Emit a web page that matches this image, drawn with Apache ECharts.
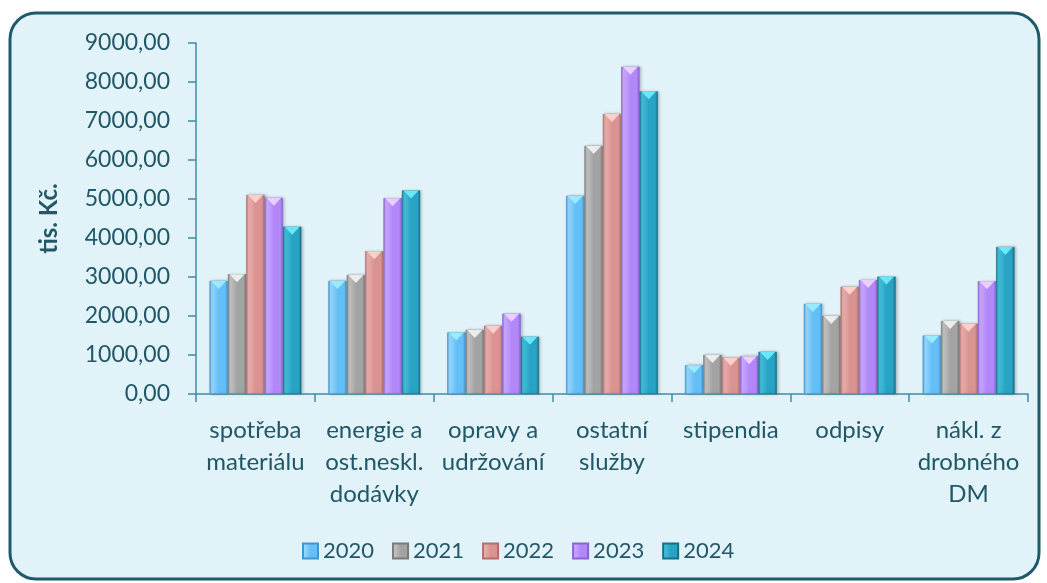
<!DOCTYPE html>
<html>
<head>
<meta charset="utf-8">
<script src="https://cdn.jsdelivr.net/npm/echarts@6/dist/echarts.min.js"></script>
<style>
  html, body { margin: 0; padding: 0; background: #ffffff; }
  #chart { width: 1047px; height: 583px; }
</style>
</head>
<body>
<div id="chart"></div>
<script>
// kategorie nákladů
const categories = ['spotřeba\nmateriálu', 'energie a\nost.neskl.\ndodávky', 'opravy a\nudržování', 'ostatní\nslužby', 'stipendia', 'odpisy', 'nákl. z\ndrobného\nDM']
const years = ['2020', '2021', '2022', '2023', '2024']

// hodnoty v tis. Kč
const v2020 = [2900, 2900, 1580, 5080, 740, 2310, 1500]
const v2021 = [3070, 3050, 1640, 6360, 1000, 2000, 1870]
const v2022 = [5100, 3660, 1750, 7180, 930, 2750, 1800]
const v2023 = [5030, 5020, 2060, 8390, 970, 2920, 2890]
const v2024 = [4290, 5220, 1470, 7760, 1080, 3010, 3770]
const values = [v2020, v2021, v2022, v2023, v2024]

// barvy: světlá hrana, hlavní, tmavá hrana, špička
const palette = [
    ['#9ad8ff', '#64bff6', '#3f97d0', '#9ff0ff'],
    ['#c4c4c4', '#a3a3a3', '#7a7a7a', '#f4f4f4'],
    ['#ebb0ae', '#d99391', '#b26e6c', '#ffd6d2'],
    ['#cbaaff', '#b288f9', '#8a62d4', '#f2d6ff'],
    ['#45c0dc', '#28a3c3', '#176f88', '#6ff0ff']
]

const textColor = '#215868'
const axisColor = '#3b8fa6'

function bevel(c) {
    return new echarts.graphic.LinearGradient(0, 0, 1, 0, [
        { offset: 0, color: c[2] },
        { offset: 0.12, color: c[0] },
        { offset: 0.5, color: c[1] },
        { offset: 0.85, color: c[1] },
        { offset: 1, color: c[2] }
    ])
}

const series = []
years.forEach((y, i) => {
    series.push({
        name: y,
        type: 'bar',
        data: values[i],
        barGap: '0%',
        barCategoryGap: '22.7%',
        itemStyle: {
            color: bevel(palette[i]),
            borderColor: palette[i][2],
            borderWidth: 0.6,
            shadowColor: 'rgba(0,0,0,0.25)',
            shadowBlur: 3,
            shadowOffsetX: 1.5,
            shadowOffsetY: 0
        }
    })
})
// trojúhelníková špička na vrcholu sloupců
years.forEach((y, i) => {
    series.push({
        name: y,
        type: 'pictorialBar',
        data: values[i],
        barGap: '0%',
        barCategoryGap: '22.7%',
        symbol: 'triangle',
        symbolRotate: 180,
        symbolSize: [15, 8],
        symbolPosition: 'end',
        symbolOffset: [0, 0],
        z: 5,
        itemStyle: { color: palette[i][3], opacity: 0.9 }
    })
})

const chart = echarts.init(document.getElementById('chart'))
chart.setOption({
    animation: false,
    textStyle: { fontFamily: 'Lato' },
    graphic: [{
        type: 'rect',
        z: -10,
        shape: { x: 10, y: 13, width: 1029, height: 566, r: 26 },
        style: { fill: '#e1f2f8', stroke: '#1f5a6b', lineWidth: 3 }
    }],
    grid: { left: 196, right: 19, top: 43, bottom: 189, containLabel: false },
    legend: {
        data: years,
        left: 297,
        top: 535,
        itemWidth: 15,
        itemHeight: 15,
        itemGap: 18,
        icon: 'rect',
        textStyle: { color: textColor, fontSize: 22, fontFamily: 'Lato' }
    },
    xAxis: {
        type: 'category',
        data: categories,
        axisLine: { lineStyle: { color: axisColor, width: 1.5 } },
        axisTick: { show: true, length: 8, lineStyle: { color: axisColor, width: 1.5 } },
        axisLabel: {
            color: textColor,
            fontSize: 24,
            lineHeight: 32,
            margin: 20,
            interval: 0,
            fontFamily: 'Lato'
        }
    },
    yAxis: {
        type: 'value',
        min: 0,
        max: 9000,
        interval: 1000,
        name: 'tis. Kč.',
        nameLocation: 'middle',
        nameGap: 135,
        nameTextStyle: { color: textColor, fontSize: 24, fontWeight: 'bold', fontFamily: 'Lato' },
        axisLine: { show: true, lineStyle: { color: axisColor, width: 1.5 } },
        axisTick: { show: true, length: 8, lineStyle: { color: axisColor, width: 1.5 } },
        splitLine: { show: false },
        axisLabel: {
            color: textColor,
            fontSize: 23,
            margin: 26,
            fontFamily: 'Lato',
            formatter: v => v.toFixed(2).replace('.', ',')
        }
    },
    series: series
})
</script>
</body>
</html>
